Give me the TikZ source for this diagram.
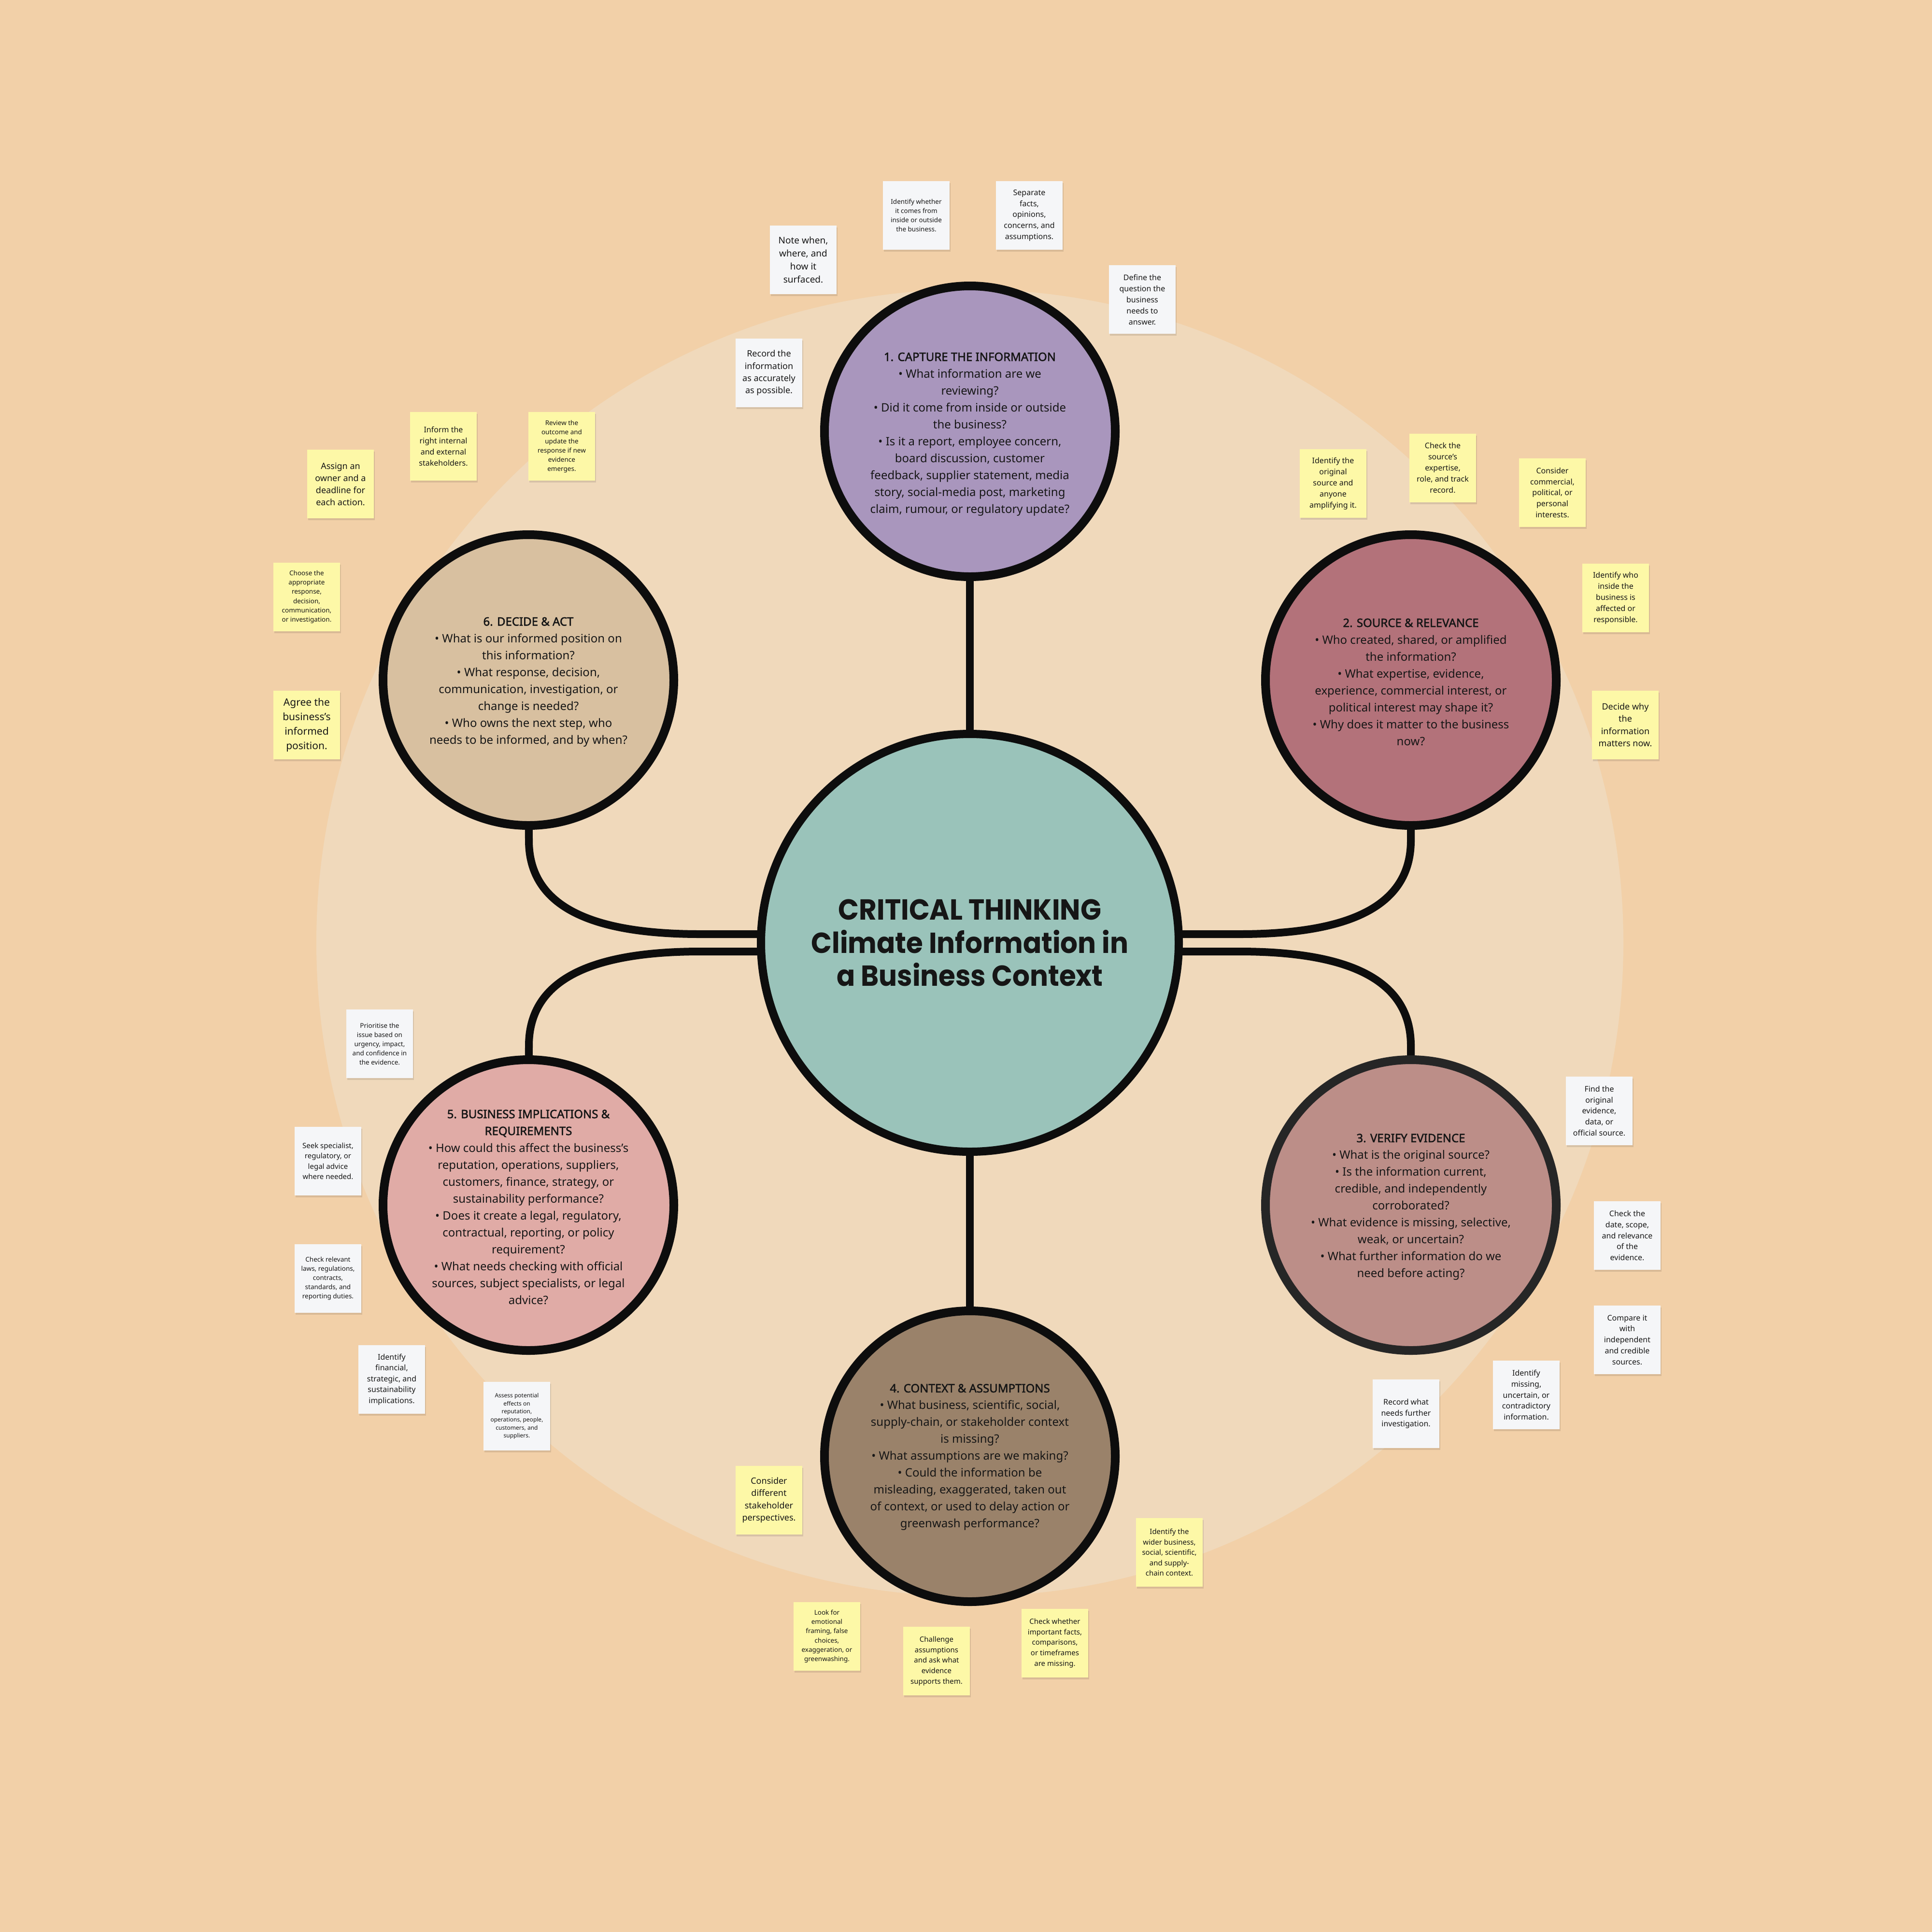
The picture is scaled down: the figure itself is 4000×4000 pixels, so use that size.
\documentclass[tikz,border=0pt]{standalone}
\usepackage{fontspec}
\setmainfont{Noto Sans}[BoldFont={Noto Sans}, BoldFeatures={FakeBold=2.2}]
\newfontfamily\titlefont{Poppins}[FakeStretch=0.94]
\usetikzlibrary{backgrounds,calc,shadows}
\newcommand{\setfs}[2]{\fontsize{#1}{#2}\selectfont}
\definecolor{bgpeach}{HTML}{F2D0A8}
\definecolor{innerpeach}{HTML}{F0D9BB}
\definecolor{cteal}{HTML}{9AC3BA}
\definecolor{cpurple}{HTML}{A996BD}
\definecolor{crose}{HTML}{B3727A}
\definecolor{cmauve}{HTML}{BC8E88}
\definecolor{cbrown}{HTML}{9A826A}
\definecolor{cpink}{HTML}{E0ABA6}
\definecolor{ctan}{HTML}{D8C0A0}
\definecolor{linecol}{HTML}{0D0D0D}
\definecolor{textcol}{HTML}{161616}
\definecolor{notewhite}{HTML}{F5F6F8}
\definecolor{noteyellow}{HTML}{FDF8A7}
\tikzset{
  hub/.style={circle, draw=linecol, line width=17pt, fill=cteal, minimum size=865pt, inner sep=0pt, outer sep=0pt},
  stage/.style={circle, draw=linecol, line width=18pt, minimum size=602pt, inner sep=0pt, outer sep=0pt},
  stagetext/.style={align=center, text=textcol, font=\setfs{24}{35}, inner sep=0pt},
  conn/.style={draw=linecol, line width=16pt},
  sticky/.style={rectangle, minimum width=138pt, minimum height=142pt, inner sep=0pt, align=center, text=textcol,
    drop shadow={shadow xshift=2pt, shadow yshift=-4pt, opacity=0.10, fill=black}},
  wnote/.style={sticky, fill=notewhite},
  ynote/.style={sticky, fill=noteyellow},
}
\begin{document}
\begin{tikzpicture}[x=1pt, y=-1pt]
\useasboundingbox (0,0) rectangle (4000,4000);

% main circles
\node[hub] (c0) at (2008,1952) {};
\node[stage, fill=cpurple] (c1) at (2008,893) {};
\node[stage, fill=crose] (c2) at (2921,1408) {};
\node[stage, fill=cmauve, draw=black!85!white] (c3) at (2921,2495) {};
\node[stage, fill=cbrown] (c4) at (2008,3015) {};
\node[stage, fill=cpink] (c5) at (1094,2495) {};
\node[stage, fill=ctan] (c6) at (1094,1408) {};

\node[align=center, text=textcol, font=\titlefont\bfseries\setfs{60}{68.5}] (title) at (c0.center)
  {CRITICAL THINKING\\Climate Information in\\a Business Context};

\node[stagetext] (t1) at ($(c1.center)+(0,6)$) {\textbf{1. CAPTURE THE INFORMATION}\\
• What information are we\\reviewing?\\
• Did it come from inside or outside\\the business?\\
• Is it a report, employee concern,\\board discussion, customer\\feedback, supplier statement, media\\story, social-media post, marketing\\claim, rumour, or regulatory update?};

\node[stagetext] (t2) at ($(c2.center)+(0,4)$) {\textbf{2. SOURCE \& RELEVANCE}\\
• Who created, shared, or amplified\\the information?\\
• What expertise, evidence,\\experience, commercial interest, or\\political interest may shape it?\\
• Why does it matter to the business\\now?};

\node[stagetext] (t3) at ($(c3.center)+(0,4)$) {\textbf{3. VERIFY EVIDENCE}\\
• What is the original source?\\
• Is the information current,\\credible, and independently\\corroborated?\\
• What evidence is missing, selective,\\weak, or uncertain?\\
• What further information do we\\need before acting?};

\node[stagetext] (t4) at ($(c4.center)+(0,2)$) {\textbf{4. CONTEXT \& ASSUMPTIONS}\\
• What business, scientific, social,\\supply-chain, or stakeholder context\\is missing?\\
• What assumptions are we making?\\
• Could the information be\\misleading, exaggerated, taken out\\of context, or used to delay action or\\greenwash performance?};

\node[stagetext] (t5) at ($(c5.center)+(0,4)$) {\textbf{5. BUSINESS IMPLICATIONS \&}\\\textbf{REQUIREMENTS}\\
• How could this affect the business’s\\reputation, operations, suppliers,\\customers, finance, strategy, or\\sustainability performance?\\
• Does it create a legal, regulatory,\\contractual, reporting, or policy\\requirement?\\
• What needs checking with official\\sources, subject specialists, or legal\\advice?};

\node[stagetext] (t6) at ($(c6.center)+(0,4)$) {\textbf{6. DECIDE \& ACT}\\
• What is our informed position on\\this information?\\
• What response, decision,\\communication, investigation, or\\change is needed?\\
• Who owns the next step, who\\needs to be informed, and by when?};

% sticky notes - group 1 (white)
\node[wnote, font=\setfs{13.5}{19}] (n1a) at (1897,446) {Identify whether\\it comes from\\inside or outside\\the business.};
\node[wnote, font=\setfs{16}{22.8}] (n1b) at (2131,446) {Separate\\facts,\\opinions,\\concerns, and\\assumptions.};
\node[wnote, font=\setfs{19}{27}] (n1c) at (1663,538) {Note when,\\where, and\\how it\\surfaced.};
\node[wnote, font=\setfs{16}{23}] (n1d) at (2365,620) {Define the\\question the\\business\\needs to\\answer.};
\node[wnote, font=\setfs{18}{25.3}] (n1e) at (1592,772) {Record the\\information\\as accurately\\as possible.};

% group 2 (yellow)
\node[ynote, font=\setfs{16}{23}] (n2a) at (2760,1001) {Identify the\\original\\source and\\anyone\\amplifying it.};
\node[ynote, font=\setfs{16}{23}] (n2b) at (2987,969) {Check the\\source’s\\expertise,\\role, and track\\record.};
\node[ynote, font=\setfs{16}{22.6}] (n2c) at (3214,1020) {Consider\\commercial,\\political, or\\personal\\interests.};
\node[ynote, font=\setfs{16}{23}] (n2d) at (3345,1238) {Identify who\\inside the\\business is\\affected or\\responsible.};
\node[ynote, font=\setfs{18}{25.5}] (n2e) at (3365,1501) {Decide why\\the\\information\\matters now.};

% group 3 (white)
\node[wnote, font=\setfs{16}{23}] (n3a) at (3311,2300) {Find the\\original\\evidence,\\data, or\\official source.};
\node[wnote, font=\setfs{16}{22.6}] (n3b) at (3369,2558) {Check the\\date, scope,\\and relevance\\of the\\evidence.};
\node[wnote, font=\setfs{16}{22.9}] (n3c) at (3369,2774) {Compare it\\with\\independent\\and credible\\sources.};
\node[wnote, font=\setfs{16}{22.9}] (n3d) at (3160,2888) {Identify\\missing,\\uncertain, or\\contradictory\\information.};
\node[wnote, font=\setfs{16}{22.8}] (n3e) at (2911,2927) {Record what\\needs further\\investigation.};

% group 4 (yellow)
\node[ynote, font=\setfs{18}{25.5}] (n4a) at (1592,3106) {Consider\\different\\stakeholder\\perspectives.};
\node[ynote, font=\setfs{15}{21.5}] (n4b) at (2421,3214) {Identify the\\wider business,\\social, scientific,\\and supply-\\chain context.};
\node[ynote, font=\setfs{13.5}{19.3}] (n4c) at (1712,3388) {Look for\\emotional\\framing, false\\choices,\\exaggeration, or\\greenwashing.};
\node[ynote, font=\setfs{15}{21.6}] (n4d) at (1939,3439) {Challenge\\assumptions\\and ask what\\evidence\\supports them.};
\node[ynote, font=\setfs{15}{21.6}] (n4e) at (2184,3402) {Check whether\\important facts,\\comparisons,\\or timeframes\\are missing.};

% group 5 (white)
\node[wnote, font=\setfs{13.5}{19}] (n5a) at (786,2161) {Prioritise the\\issue based on\\urgency, impact,\\and confidence in\\the evidence.};
\node[wnote, font=\setfs{15}{21.3}] (n5b) at (679,2404) {Seek specialist,\\regulatory, or\\legal advice\\where needed.};
\node[wnote, font=\setfs{13.5}{19}] (n5c) at (679,2647) {Check relevant\\laws, regulations,\\contracts,\\standards, and\\reporting duties.};
\node[wnote, font=\setfs{16}{22.6}] (n5d) at (811,2856) {Identify\\financial,\\strategic, and\\sustainability\\implications.};
\node[wnote, font=\setfs{12}{16.7}] (n5e) at (1070,2932) {Assess potential\\effects on\\reputation,\\operations, people,\\customers, and\\suppliers.};

% group 6 (yellow)
\node[ynote, font=\setfs{18}{25}] (n6a) at (705,1002) {Assign an\\owner and a\\deadline for\\each action.};
\node[ynote, font=\setfs{16}{22.9}] (n6b) at (918,924) {Inform the\\right internal\\and external\\stakeholders.};
\node[ynote, font=\setfs{13.5}{19}] (n6c) at (1163,924) {Review the\\outcome and\\update the\\response if new\\evidence\\emerges.};
\node[ynote, font=\setfs{13.5}{19.2}] (n6d) at (635,1236) {Choose the\\appropriate\\response,\\decision,\\communication,\\or investigation.};
\node[ynote, font=\setfs{21}{29.8}] (n6e) at (635,1501) {Agree the\\business’s\\informed\\position.};

% background and connectors
\begin{scope}[on background layer]
  \fill[bgpeach] (0,0) rectangle (4000,4000);
  \fill[innerpeach] (c0.center) circle[radius=1353];
  \draw[conn] (c0.center) -- (c1.center);
  \draw[conn] (c0.center) -- (c4.center);
  \draw[conn] ($(c0.center)+(-300,-18)$) -- (1450,1934) .. controls (1230,1934) and (1095,1880) .. (1095,1740) -- (c6.center);
  \draw[conn] ($(c0.center)+(-300,18)$) -- (1450,1970) .. controls (1230,1970) and (1095,2025) .. (1095,2165) -- (c5.center);
  \draw[conn] ($(c0.center)+(300,-18)$) -- (2566,1934) .. controls (2786,1934) and (2921,1880) .. (2921,1740) -- (c2.center);
  \draw[conn] ($(c0.center)+(300,18)$) -- (2566,1970) .. controls (2786,1970) and (2921,2025) .. (2921,2165) -- (c3.center);
\end{scope}
\end{tikzpicture}
\end{document}
